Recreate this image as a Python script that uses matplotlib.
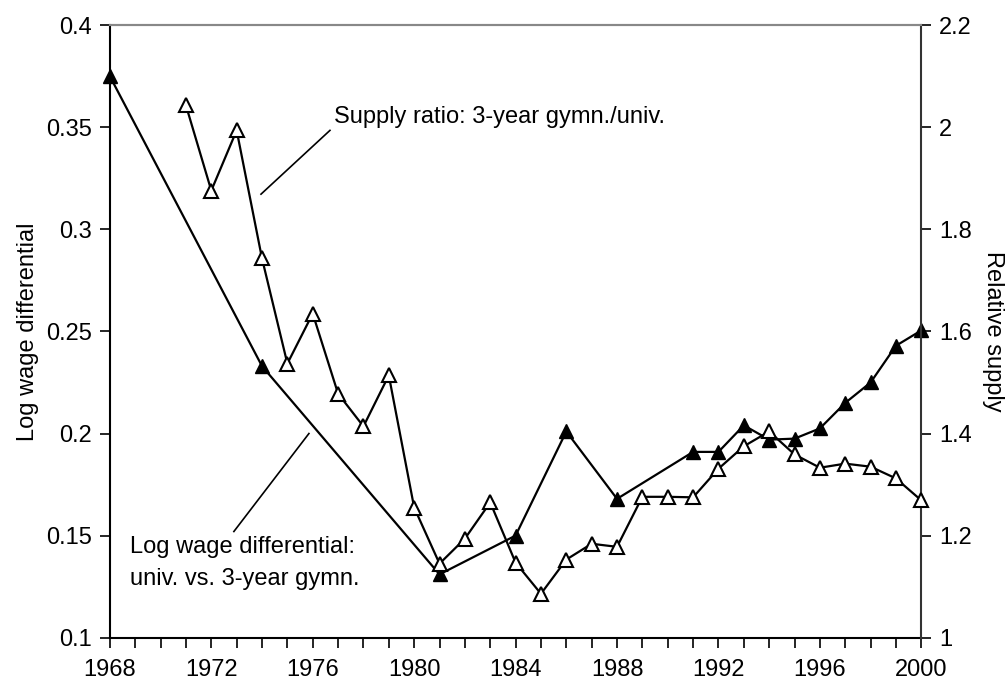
import matplotlib
matplotlib.use("Agg")
import matplotlib.pyplot as plt
from matplotlib.ticker import MultipleLocator

plt.rcParams["font.family"] = ["Liberation Sans", "DejaVu Sans"]

# log wage differential, univ. vs 3-year gymn. (left axis)
wage_years = [1968, 1974, 1981, 1984, 1986, 1988, 1991, 1992, 1993, 1994,
              1995, 1996, 1997, 1998, 1999, 2000]
wage_diff = [0.375, 0.233, 0.131, 0.150, 0.201, 0.168, 0.191, 0.191, 0.204,
             0.197, 0.1975, 0.2025, 0.215, 0.225, 0.243, 0.2505]

# supply ratio, 3-year gymn./univ. (right axis)
supply_years = list(range(1971, 2001))
supply_ratio = [2.043, 1.876, 1.994, 1.743, 1.537, 1.635, 1.478, 1.414, 1.514,
                1.255, 1.145, 1.194, 1.265, 1.147, 1.086, 1.153, 1.184, 1.178,
                1.276, 1.276, 1.275, 1.331, 1.375, 1.404, 1.359, 1.333, 1.341,
                1.335, 1.312, 1.269]

fig = plt.figure(figsize=(10.08, 6.82), dpi=100)
ax = fig.add_axes([0.109, 0.065, 0.805, 0.898])
ax2 = ax.twinx()

ax.plot(wage_years, wage_diff, color="black", lw=1.6, marker="^",
        markersize=9.5, markerfacecolor="black", markeredgecolor="black",
        clip_on=False, zorder=3)
ax2.plot(supply_years, supply_ratio, color="black", lw=1.6, marker="^",
         markersize=9.5, markerfacecolor="white", markeredgecolor="black",
         markeredgewidth=1.5, clip_on=False, zorder=3)

ax.set_xlim(1968, 2000)
ax.set_ylim(0.1, 0.4)
ax2.set_ylim(1.0, 2.2)
ax.xaxis.set_major_locator(MultipleLocator(4))
ax.xaxis.set_minor_locator(MultipleLocator(1))

ax.set_yticks([0.1, 0.15, 0.2, 0.25, 0.3, 0.35, 0.4])
ax.set_yticklabels(["0.1", "0.15", "0.2", "0.25", "0.3", "0.35", "0.4"])
ax2.set_yticks([1.0, 1.2, 1.4, 1.6, 1.8, 2.0, 2.2])
ax2.set_yticklabels(["1", "1.2", "1.4", "1.6", "1.8", "2", "2.2"])

for a in (ax, ax2):
    a.tick_params(axis="both", which="both", direction="out", length=7,
                  width=1.2, labelsize=17, pad=6)
    a.spines["top"].set_color("#888888")
    a.spines["top"].set_linewidth(1.5)
ax.spines["left"].set_linewidth(1.5)
ax.spines["bottom"].set_linewidth(1.5)
ax.spines["right"].set_visible(False)
ax2.spines["left"].set_visible(False)
ax2.spines["bottom"].set_visible(False)
ax2.spines["right"].set_color("#333333")
ax2.spines["right"].set_linewidth(1.5)
ax.tick_params(axis="x", pad=8)

ax.set_ylabel("Log wage differential", fontsize=17, labelpad=5)
ax2.set_ylabel("Relative supply", fontsize=17, rotation=-90, labelpad=23)

# annotations with leader lines
ax2.text(1976.85, 2.02, "Supply ratio: 3-year gymn./univ.", fontsize=17,
         va="center", ha="left")
ax2.plot([1976.68, 1973.96], [1.994, 1.869], color="black", lw=1.2)

ax.text(1968.8, 0.1365, "Log wage differential:\nuniv. vs. 3-year gymn.",
        fontsize=17, va="center", ha="left", linespacing=1.55)
ax.plot([1975.85, 1972.89], [0.200, 0.152], color="black", lw=1.2)

fig.savefig("out.png", dpi=100)
